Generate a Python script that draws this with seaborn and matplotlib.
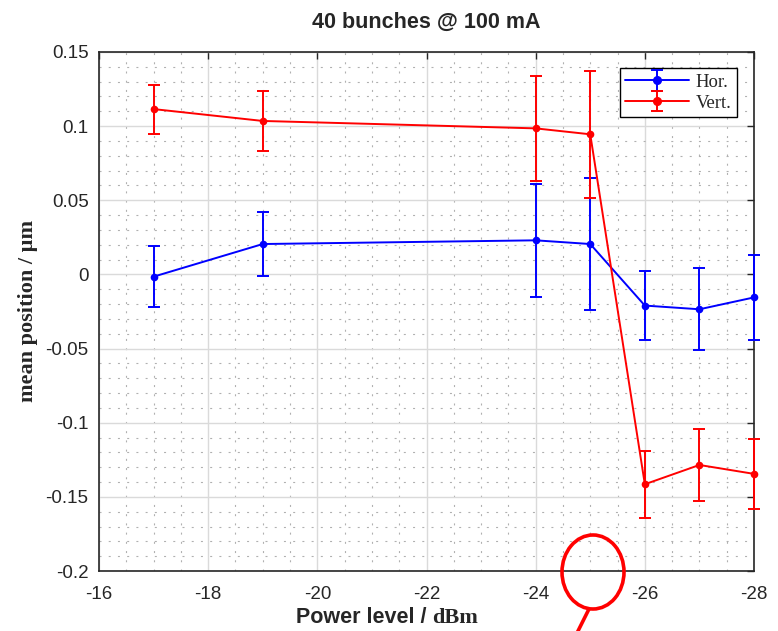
import numpy as np
import pandas as pd
import seaborn as sns
import matplotlib
matplotlib.use("Agg")
import matplotlib.pyplot as plt
from matplotlib.patches import Ellipse
from matplotlib.lines import Line2D
from matplotlib.ticker import MultipleLocator
from matplotlib.container import ErrorbarContainer
from matplotlib.legend_handler import HandlerErrorbar

# ---- data ----
power = [-17, -19, -24, -25, -26, -27, -28]
hor_mean = [-0.0015, 0.0205, 0.023, 0.0205, -0.021, -0.0235, -0.0155]
hor_err = [0.0205, 0.0215, 0.038, 0.0445, 0.023, 0.0275, 0.0285]
vert_mean = [0.1115, 0.1035, 0.0985, 0.0945, -0.1415, -0.1285, -0.1345]
vert_err = [0.0165, 0.0205, 0.0355, 0.043, 0.0225, 0.0245, 0.0235]
series_names = ["Hor.", "Vert."]
series_colors = ["#0000ff", "#ff0000"]

x_ticks = [-16, -18, -20, -22, -24, -26, -28]
y_ticks = [0.15, 0.1, 0.05, 0, -0.05, -0.1, -0.15, -0.2]
y_tick_labels = ["0.15", "0.1", "0.05", "0", "-0.05", "-0.1", "-0.15", "-0.2"]

df = pd.DataFrame({
    "power": power * 2,
    "value": hor_mean + vert_mean,
    "series": [series_names[0]] * len(power) + [series_names[1]] * len(power),
})

sns.set_style("white")
plt.rcParams["axes.unicode_minus"] = False
plt.rcParams["font.family"] = ["Liberation Sans", "DejaVu Sans"]

W, H = 778, 631
fig = plt.figure(figsize=(W / 100, H / 100), dpi=100)
ax = fig.add_axes([99 / W, 1 - 571 / H, (754 - 99) / W, (571 - 52) / H])

sns.lineplot(data=df, x="power", y="value", hue="series",
             palette=dict(zip(series_names, series_colors)),
             marker="o", markersize=5.5, markeredgewidth=0, linewidth=1.4,
             legend=False, ax=ax, sort=False, zorder=3)
for ln in ax.lines:
    ln.set_clip_on(False)

for m, e, c in [(hor_mean, hor_err, series_colors[0]), (vert_mean, vert_err, series_colors[1])]:
    cont = ax.errorbar(power, m, yerr=e, fmt="none", ecolor=c, elinewidth=1.4,
                       capsize=4.5, capthick=1.4, zorder=3)
    for art in cont.lines[1]:
        art.set_clip_on(False)
    for art in cont.lines[2]:
        art.set_clip_on(False)

# legend handles (errorbar style)
handles = []
for name, c in zip(series_names, series_colors):
    h = ax.errorbar([np.nan], [np.nan], yerr=[np.nan], fmt="-o", color=c,
                    markersize=5.5, linewidth=1.4, capsize=4.5, capthick=1.4, label=name)
    handles.append(h)
leg = ax.legend(handles=handles, labels=series_names, loc="upper right",
                bbox_to_anchor=(1 - 17 / 655, 1 - 16 / 519), frameon=True, fancybox=False,
                edgecolor="black", framealpha=1, borderaxespad=0.0,
                prop={"family": "Liberation Serif", "size": 13.5},
                handlelength=3.4, handletextpad=0.35, borderpad=0.3,
                labelspacing=0.2,
                handler_map={ErrorbarContainer: HandlerErrorbar(xerr_size=0.5, yerr_size=0.55)})
leg.get_frame().set_linewidth(1.0)

ax.set_xlim(-16, -28)
ax.set_ylim(-0.2, 0.15)
ax.set_xticks(x_ticks)
ax.set_xticklabels([str(t) for t in x_ticks])
ax.set_yticks(y_ticks)
ax.set_yticklabels(y_tick_labels)
ax.xaxis.set_minor_locator(MultipleLocator(0.5))
ax.yaxis.set_minor_locator(MultipleLocator(0.01))

ax.grid(True, which="major", color="#dadada", linewidth=1.0, linestyle="-", zorder=0)
ax.grid(True, which="minor", color="#b0b0b0", linewidth=0.8, linestyle=(0, (1.8, 6.5)), zorder=0)
ax.set_axisbelow(True)

ax.tick_params(axis="x", which="major", pad=11)
ax.tick_params(axis="y", which="major", pad=7.5)
ax.tick_params(axis="both", which="major", direction="in", length=5, width=1,
               labelsize=13.5, colors="#262626", top=True, right=True)
ax.tick_params(axis="both", which="minor", length=0)
for s in ax.spines.values():
    s.set_color("#262626")
    s.set_linewidth(1.2)

ax.set_xlabel("")
ax.set_ylabel("")
ax.set_title("40 bunches @ 100 mA", fontweight="bold", fontsize=15.5, pad=17)

# y label
fig.text(28 / W, 1 - 311 / H, "mean position / \u00b5m", family="Liberation Serif",
         fontweight="bold", fontsize=16, rotation=90, ha="center", va="center")

# mixed-font x label
fig.canvas.draw()
r = fig.canvas.get_renderer()
t1 = fig.text(296 / W, 1 - 623 / H, "Power level / ", fontweight="bold", fontsize=15.5,
              family="Liberation Sans", va="baseline", ha="left")
w1 = t1.get_window_extent(r).width
t2 = fig.text((296 + w1) / W, 1 - 623 / H, "dBm", fontweight="bold", fontsize=16,
              family="Liberation Serif", va="baseline", ha="left")

# red annotation circle
ell = Ellipse((593 / W, 1 - 572 / H), 62 / W, 74 / H, transform=fig.transFigure,
              fill=False, edgecolor="#ff0000", linewidth=2.6, zorder=10, clip_on=False)
fig.patches.append(ell)
fig.lines.append(Line2D([589 / W, 577 / W], [1 - 609 / H, 1 - 633 / H],
                        transform=fig.transFigure, color="#ff0000", linewidth=2.6))

fig.savefig("out.png", dpi=100)
